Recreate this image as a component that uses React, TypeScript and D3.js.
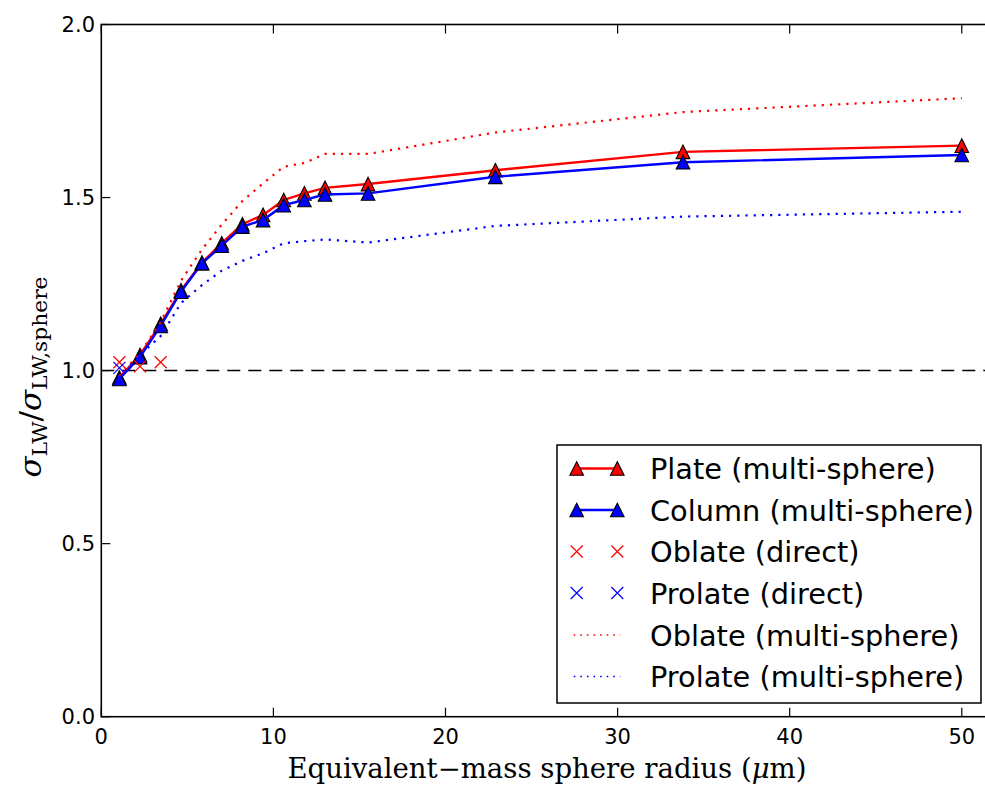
import React from "react";
import * as d3 from "d3";

const radius = [1.05, 2.25, 3.45, 4.63, 5.85, 7.0, 8.2, 9.4, 10.6, 11.8, 13.0, 15.5, 22.9, 33.8, 50.0];
const plateMulti = [0.98, 1.045, 1.135, 1.232, 1.312, 1.368, 1.423, 1.45, 1.493, 1.512, 1.528, 1.539, 1.579, 1.632, 1.65];
const columnMulti = [0.976, 1.039, 1.129, 1.228, 1.31, 1.361, 1.416, 1.435, 1.478, 1.493, 1.509, 1.512, 1.56, 1.602, 1.623];
const oblateMulti = [0.985, 1.05, 1.14, 1.26, 1.35, 1.422, 1.49, 1.541, 1.589, 1.6, 1.626, 1.626, 1.688, 1.747, 1.787];
const prolateMulti = [0.98, 1.045, 1.1, 1.195, 1.247, 1.289, 1.317, 1.339, 1.368, 1.374, 1.379, 1.37, 1.418, 1.445, 1.459];
const oblateDirectX = [1.05, 2.25, 3.45];
const oblateDirectY = [1.024, 1.012, 1.024];
const prolateDirectX = [1.05];
const prolateDirectY = [1.008];

const xTicks = [0, 10, 20, 30, 40, 50];
const yTicks = [0, 0.5, 1.0, 1.5, 2.0];
const yTickLabels = ["0.0", "0.5", "1.0", "1.5", "2.0"];

const legendLabels = [
  "Plate (multi-sphere)",
  "Column (multi-sphere)",
  "Oblate (direct)",
  "Prolate (direct)",
  "Oblate (multi-sphere)",
  "Prolate (multi-sphere)",
];

const RED = "#ff0000";
const BLUE = "#0000ff";
const SANS = "'DejaVu Sans', sans-serif";
const SERIF = "'DejaVu Serif', 'Liberation Serif', serif";

const W = 985;
const H = 789;
const left = 101.3;
const right = 996.2;
const top = 24.5;
const bottom = 716.7;

function Triangle({ x, y, fill }: { x: number; y: number; fill: string }) {
  const s = 6.8;
  return (
    <path
      d={`M${x},${y - s}L${x - s},${y + s}L${x + s},${y + s}Z`}
      fill={fill}
      stroke="#000"
      strokeWidth={1.1}
      strokeLinejoin="miter"
    />
  );
}

function Cross({ x, y, color }: { x: number; y: number; color: string }) {
  const s = 6;
  return (
    <path
      d={`M${x - s},${y - s}L${x + s},${y + s}M${x - s},${y + s}L${x + s},${y - s}`}
      stroke={color}
      strokeWidth={1.2}
      fill="none"
    />
  );
}

export default function App() {
  const x = d3.scaleLinear().domain([0, 52]).range([left, right]);
  const y = d3.scaleLinear().domain([0, 2]).range([bottom, top]);
  const line = d3
    .line<[number, number]>()
    .x((d) => x(d[0]))
    .y((d) => y(d[1]));
  const pts = (ys: number[]) => radius.map((r, i) => [r, ys[i]] as [number, number]);

  const rows = [468.5, 510, 551.5, 593, 635, 676.5];
  const hx1 = 576.7;
  const hx2 = 617.3;

  return (
    <svg
      width={W}
      height={H}
      style={{ position: "absolute", left: 0, top: 0, background: "#fff" }}
    >
      <rect x={0} y={0} width={W} height={H} fill="#fff" />
      <defs>
        <clipPath id="plotclip">
          <rect x={left} y={top} width={right - left} height={bottom - top} />
        </clipPath>
      </defs>
      <g clipPath="url(#plotclip)">
        <line
          x1={x(0)}
          x2={x(52)}
          y1={y(1)}
          y2={y(1)}
          stroke="#000"
          strokeWidth={1.5}
          strokeDasharray="13 8"
        />
        <path d={line(pts(plateMulti)) || ""} fill="none" stroke={RED} strokeWidth={2.4} />
        {radius.map((r, i) => (
          <Triangle key={"p" + i} x={x(r)} y={y(plateMulti[i])} fill={RED} />
        ))}
        <path d={line(pts(columnMulti)) || ""} fill="none" stroke={BLUE} strokeWidth={2.4} />
        {radius.map((r, i) => (
          <Triangle key={"c" + i} x={x(r)} y={y(columnMulti[i])} fill={BLUE} />
        ))}
        {oblateDirectX.map((r, i) => (
          <Cross key={"od" + i} x={x(r)} y={y(oblateDirectY[i])} color={RED} />
        ))}
        {prolateDirectX.map((r, i) => (
          <Cross key={"pd" + i} x={x(r)} y={y(prolateDirectY[i])} color={BLUE} />
        ))}
        <path
          d={line(pts(oblateMulti)) || ""}
          fill="none"
          stroke={RED}
          strokeWidth={2.2}
          strokeDasharray="2.2 6"
        />
        <path
          d={line(pts(prolateMulti)) || ""}
          fill="none"
          stroke={BLUE}
          strokeWidth={2.2}
          strokeDasharray="2.2 6"
        />
      </g>

      {/* spines */}
      <rect
        x={left}
        y={top}
        width={right - left}
        height={bottom - top}
        fill="none"
        stroke="#000"
        strokeWidth={1.6}
      />
      {/* x ticks */}
      {xTicks.map((t) => (
        <g key={"xt" + t}>
          <line x1={x(t)} x2={x(t)} y1={bottom} y2={bottom - 9} stroke="#000" strokeWidth={1.2} />
          <line x1={x(t)} x2={x(t)} y1={top} y2={top + 9} stroke="#000" strokeWidth={1.2} />
          <text
            x={x(t)}
            y={743.5}
            textAnchor="middle"
            fontFamily={SANS}
            fontSize={21}
            fill="#000"
          >
            {String(t)}
          </text>
        </g>
      ))}
      {/* y ticks */}
      {yTicks.map((t, i) => (
        <g key={"yt" + t}>
          <line x1={left} x2={left + 9} y1={y(t)} y2={y(t)} stroke="#000" strokeWidth={1.2} />
          <line x1={right} x2={right - 9} y1={y(t)} y2={y(t)} stroke="#000" strokeWidth={1.2} />
          <text
            x={95}
            y={y(t) + 7.6}
            textAnchor="end"
            fontFamily={SANS}
            fontSize={21}
            fill="#000"
          >
            {yTickLabels[i]}
          </text>
        </g>
      ))}

      {/* x label */}
      <text
        x={547}
        y={778}
        textAnchor="middle"
        fontFamily={SERIF}
        fontSize={27}
        fill="#000"
        textLength={519}
        lengthAdjust="spacingAndGlyphs"
      >
        Equivalent−mass sphere radius (<tspan fontStyle="italic">μ</tspan>m)
      </text>

      {/* y label */}
      <g transform="translate(41,377) rotate(-90)">
        <text
          textAnchor="middle"
          fontFamily={SERIF}
          fontSize={29}
          fill="#000"
          textLength={201}
          lengthAdjust="spacingAndGlyphs"
        >
          <tspan fontStyle="italic">σ</tspan>
          <tspan fontSize={20.5} dy={5.5}>LW</tspan>
          <tspan dy={-5.5}>/</tspan>
          <tspan fontStyle="italic">σ</tspan>
          <tspan fontSize={20.5} dy={5.5}>LW,sphere</tspan>
        </text>
      </g>

      {/* legend */}
      <rect x={557} y={445} width={424} height={258} fill="#fff" stroke="#000" strokeWidth={1.5} />
      {/* Plate */}
      <line x1={hx1} x2={hx2} y1={rows[0]} y2={rows[0]} stroke={RED} strokeWidth={2.4} />
      <Triangle x={hx1} y={rows[0]} fill={RED} />
      <Triangle x={hx2} y={rows[0]} fill={RED} />
      {/* Column */}
      <line x1={hx1} x2={hx2} y1={rows[1]} y2={rows[1]} stroke={BLUE} strokeWidth={2.4} />
      <Triangle x={hx1} y={rows[1]} fill={BLUE} />
      <Triangle x={hx2} y={rows[1]} fill={BLUE} />
      {/* Oblate direct */}
      <Cross x={hx1} y={rows[2]} color={RED} />
      <Cross x={hx2} y={rows[2]} color={RED} />
      {/* Prolate direct */}
      <Cross x={hx1} y={rows[3]} color={BLUE} />
      <Cross x={hx2} y={rows[3]} color={BLUE} />
      {/* dotted */}
      <line x1={hx1 - 3} x2={hx2 + 3} y1={rows[4]} y2={rows[4]} stroke={RED} strokeWidth={1.4} strokeDasharray="1.6 5" />
      <line x1={hx1 - 3} x2={hx2 + 3} y1={rows[5]} y2={rows[5]} stroke={BLUE} strokeWidth={1.4} strokeDasharray="1.6 5" />
      {legendLabels.map((l, i) => (
        <text
          key={l}
          x={650}
          y={rows[i] + 10.5}
          fontFamily={SANS}
          fontSize={28.8}
          fill="#000"
        >
          {l}
        </text>
      ))}
    </svg>
  );
}
